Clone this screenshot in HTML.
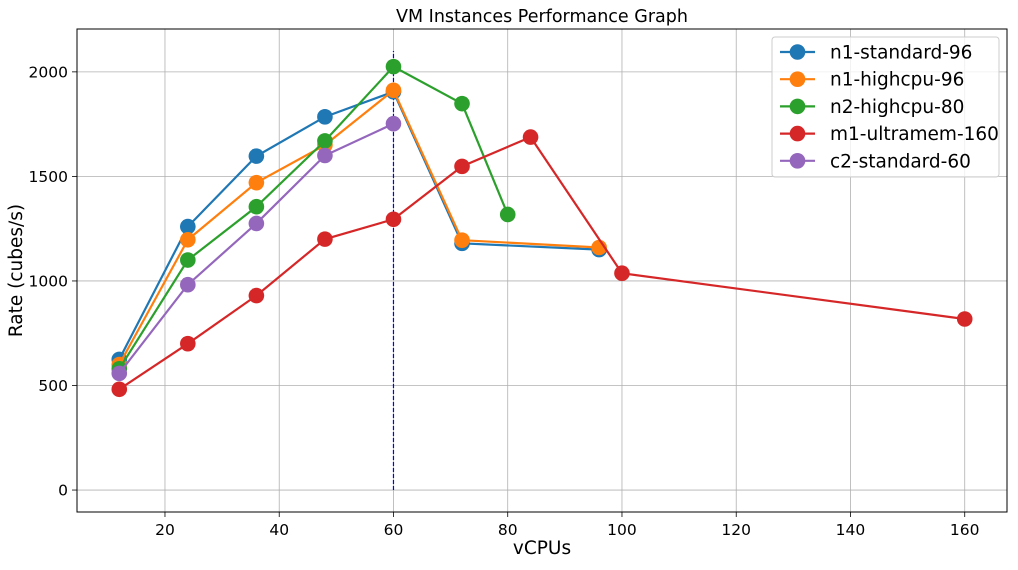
<!DOCTYPE html>
<html><head><meta charset="utf-8"><style>
body{margin:0;background:#fff;}
svg text{font-family:"DejaVu Sans","Liberation Sans",sans-serif;fill:#000;}
</style></head><body>
<svg id="c" width="1018" height="565" xmlns="http://www.w3.org/2000/svg"></svg>
<script>
const xTicks=[20,40,60,80,100,120,140,160];
const yTicks=[0,500,1000,1500,2000];
const seriesNames=["n1-standard-96","n1-highcpu-96","n2-highcpu-80","m1-ultramem-160","c2-standard-60"];
const colors=["#1f77b4","#ff7f0e","#2ca02c","#d62728","#9467bd"];
const n1StdX=[12,24,36,48,60,72,96];
const n1StdY=[625,1260,1597,1785,1905,1180,1150];
const n1HcX=[12,24,36,48,60,72,96];
const n1HcY=[600,1197,1470,1650,1912,1195,1160];
const n2HcX=[12,24,36,48,60,72,80];
const n2HcY=[580,1100,1355,1670,2025,1848,1318];
const m1X=[12,24,36,48,60,72,84,100,160];
const m1Y=[482,700,930,1200,1295,1548,1688,1037,818];
const c2X=[12,24,36,48,60];
const c2Y=[558,982,1275,1600,1752];
const vline=[60,0,2100];
const seriesX=[n1StdX,n1HcX,n2HcX,m1X,c2X];
const seriesY=[n1StdY,n1HcY,n2HcY,m1Y,c2Y];

const L=77,R=1007,T=29,B=512;
const xMin=4.6,xMax=167.4,yMin=-105,yMax=2205;
const sx=v=>L+(v-xMin)/(xMax-xMin)*(R-L);
const sy=v=>B-(v-yMin)/(yMax-yMin)*(B-T);
const svg=document.getElementById('c');
const NS="http://www.w3.org/2000/svg";
function mk(tag,attrs,parent){const e=document.createElementNS(NS,tag);for(const k in attrs)e.setAttribute(k,attrs[k]);(parent||svg).appendChild(e);return e;}

const grid=mk('g',{});


xTicks.forEach(t=>{
  mk('line',{x1:sx(t),x2:sx(t),y1:T,y2:B,stroke:'#b0b0b0','stroke-width':0.8},grid);
  mk('line',{x1:sx(t),x2:sx(t),y1:B,y2:B+5,stroke:'#000','stroke-width':0.8});
  const tx=mk('text',{x:sx(t),y:B+23,'text-anchor':'middle','font-size':15.5});
  tx.textContent=t;
  
  
});
yTicks.forEach(t=>{
  mk('line',{x1:L,x2:R,y1:sy(t),y2:sy(t),stroke:'#b0b0b0','stroke-width':0.8},grid);
  mk('line',{x1:L-5,x2:L,y1:sy(t),y2:sy(t),stroke:'#000','stroke-width':0.8});
  const tx=mk('text',{x:L-9,y:sy(t)+5.5,'text-anchor':'end','font-size':15.5});
  tx.textContent=t;
  
  
});

const vl=mk('line',{x1:sx(vline[0]),x2:sx(vline[0]),y1:sy(vline[1]),y2:sy(vline[2]),stroke:'#0000ff','stroke-width':1.2,'stroke-dasharray':'4,2'});



seriesNames.forEach((n,i)=>{
  const g=mk('g',{});
  
  
  const pts=seriesX[i].map((x,j)=>sx(x)+','+sy(seriesY[i][j])).join(' ');
  mk('polyline',{points:pts,fill:'none',stroke:colors[i],'stroke-width':2.2},g);
  seriesX[i].forEach((x,j)=>{
    const c=mk('circle',{cx:sx(x),cy:sy(seriesY[i][j]),r:7.8,fill:colors[i]},g);
    
    
  });
});

mk('rect',{x:L,y:T,width:R-L,height:B-T,fill:'none',stroke:'#000','stroke-width':1});

const title=mk('text',{x:(L+R)/2,y:22,'text-anchor':'middle','font-size':17.5});
title.textContent='VM Instances Performance Graph';


const xt=mk('text',{x:(L+R)/2,y:554,'text-anchor':'middle','font-size':18.5});
xt.textContent='vCPUs';


const yt=mk('text',{x:0,y:0,'text-anchor':'middle','font-size':18.5,transform:'translate(22,'+((T+B)/2)+') rotate(-90)'});
yt.textContent='Rate (cubes/s)';



const lg=mk('g',{});


mk('rect',{x:772,y:37,width:227,height:140,rx:3,fill:'#fff','fill-opacity':0.8,stroke:'#ccc'},lg);
seriesNames.forEach((n,i)=>{
  const y=52+i*27.2;
  const e=mk('g',{},lg);
  
  
  mk('line',{x1:780,x2:815,y1:y,y2:y,stroke:colors[i],'stroke-width':2.2},e);
  mk('circle',{cx:797.5,cy:y,r:7.8,fill:colors[i]},e);
  const t=mk('text',{x:830,y:y+6.5,'font-size':18.5},e);
  t.textContent=n;
});
</script>
</body></html>
